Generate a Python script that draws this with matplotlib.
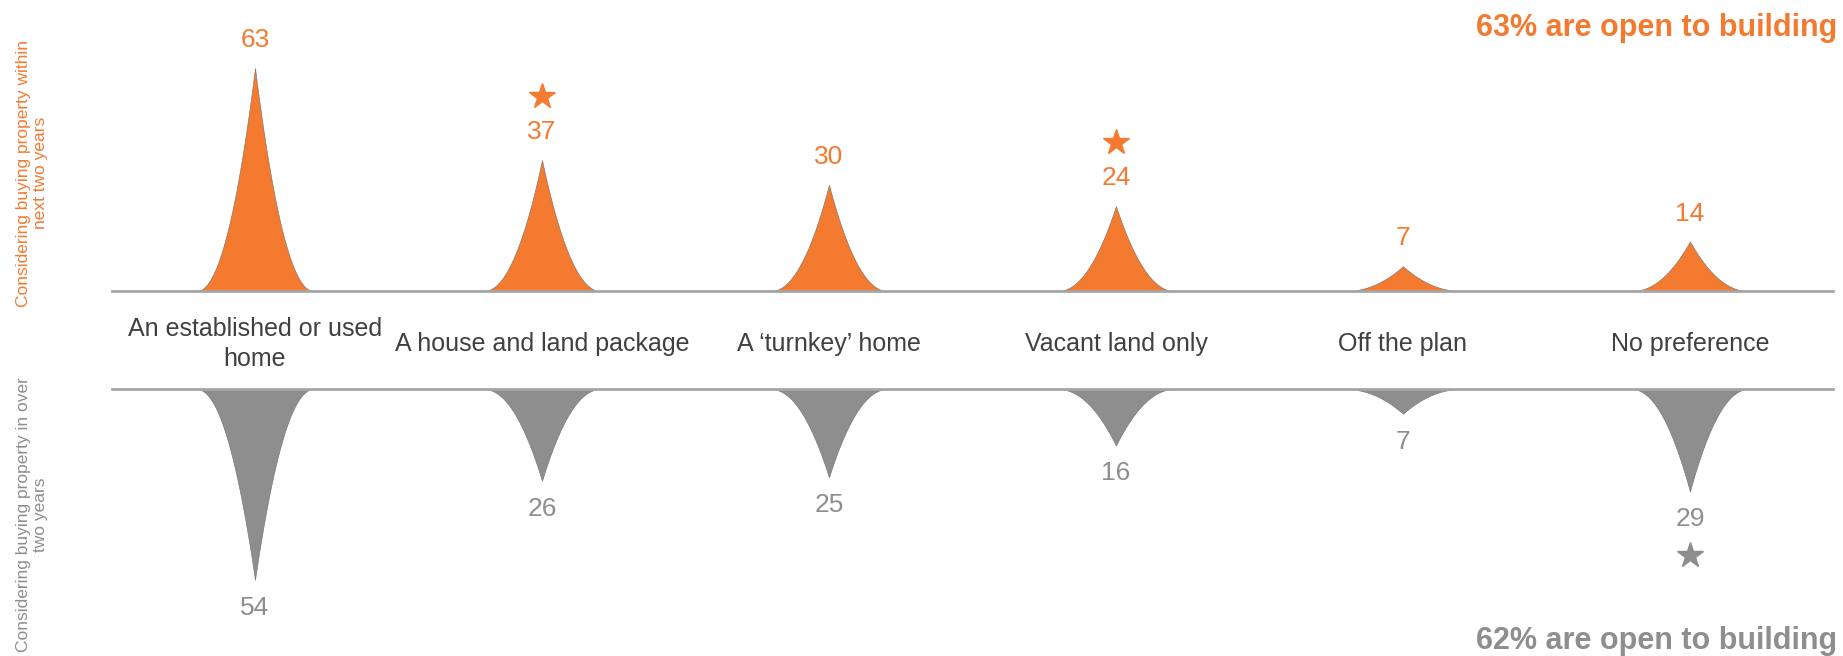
import matplotlib.pyplot as plt
import matplotlib.transforms as mtrans
import numpy as np

categories = ['An established or used\nhome', 'A house and land package', 'A \u2018turnkey\u2019 home',
              'Vacant land only', 'Off the plan', 'No preference']
within_two_years = [63, 37, 30, 24, 7, 14]
over_two_years = [54, 26, 25, 16, 7, 29]
star_within = [False, True, False, True, False, False]
star_over = [False, False, False, False, False, True]

orange = '#F47A30'
grey = '#8E8E8E'
plt.rcParams['font.family'] = ['Liberation Sans Narrow', 'Liberation Sans', 'DejaVu Sans']

fig = plt.figure(figsize=(18.43, 6.56), dpi=100)
ax_top = fig.add_axes([0.0605, 0.5564, 0.9343, 0.4317])
ax_bot = fig.add_axes([0.0605, 0.003, 0.9343, 0.404])

half_w = 0.205
t = np.linspace(-1, 1, 301)
profile = (1 - np.abs(t)) ** 2.1


def draw_spikes(ax, values, stars, color, sign):
    for i, v in enumerate(values):
        ax.fill_between(i + half_w * t, 0, v * profile, color=color,
                        edgecolor='#707070', linewidth=0.4)
        ax.annotate(str(v), (i, v), xytext=(0, 20 * sign), textcoords='offset points',
                    ha='center', va='center', fontsize=19, color=color)
        if stars[i]:
            shift = mtrans.ScaledTranslation(0, 46 * sign / 72, fig.dpi_scale_trans)
            ax.plot(i, v, marker='*', markersize=19, color=color,
                    transform=ax.transData + shift, clip_on=False)
    ax.axhline(0, color='#A6A6A6', linewidth=2, clip_on=False)
    ax.set_xlim(-0.5, 5.5)
    ax.axis('off')


draw_spikes(ax_top, within_two_years, star_within, orange, 1)
ax_top.set_ylim(0, 80)
draw_spikes(ax_bot, over_two_years, star_over, grey, -1)
ax_bot.set_ylim(75, 0)

for i, c in enumerate(categories):
    ax_top.text(i, -0.187, c, transform=ax_top.get_xaxis_transform(), ha='center',
                va='center', fontsize=18, color='#404040', linespacing=1.35)

fig.text(0.0174, 0.736, 'Considering buying property within\nnext two years', rotation=90,
         ha='center', va='center', fontsize=12.5, color=orange, multialignment='center')
fig.text(0.0174, 0.215, 'Considering buying property in over\ntwo years', rotation=90,
         ha='center', va='center', fontsize=12.5, color=grey, multialignment='center')

fig.text(0.997, 0.958, '63% are open to building', ha='right', va='center',
         fontsize=22, fontweight='bold', color=orange)
fig.text(0.997, 0.023, '62% are open to building', ha='right', va='center',
         fontsize=22, fontweight='bold', color=grey)

fig.savefig('out.png', dpi=100)
